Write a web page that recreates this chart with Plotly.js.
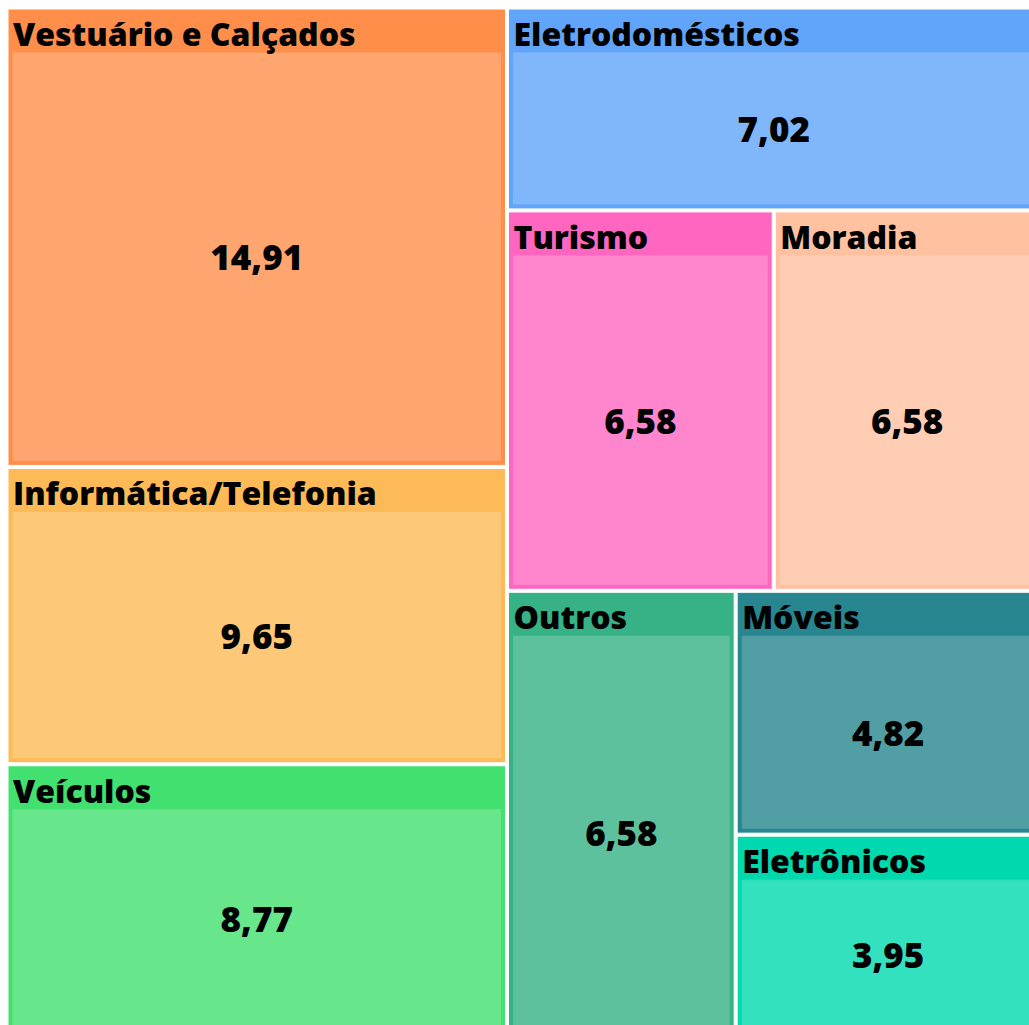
<!DOCTYPE html>
<html>
<head>
<meta charset="utf-8">
<script src="https://cdn.plot.ly/plotly-3.0.1.min.js"></script>
<style>
html,body{margin:0;padding:0;overflow:hidden;background:#fff;}
#chart{position:absolute;left:0;top:-70px;width:1050px;height:1115px;}
</style>
</head>
<body>
<div id="chart"></div>
<script>
const categories = ["Vestuário e Calçados","Informática/Telefonia","Veículos","Eletrodomésticos","Turismo","Moradia","Outros","Móveis","Eletrônicos"];
const values = [14.91, 9.65, 8.77, 7.02, 6.58, 6.58, 6.58, 4.82, 3.95];
const headerColors = ["#FF8E4B","#FDBA56","#42E06F","#60A5FA","#FF66C0","#FFC1A0","#36B286","#27868F","#00D9AE"];

function lighten(hex, f){
  const n = parseInt(hex.slice(1),16);
  const r=(n>>16)&255,g=(n>>8)&255,b=n&255;
  const m=c=>Math.round(c+(255-c)*f);
  return `rgb(${m(r)},${m(g)},${m(b)})`;
}

const CLEAR="rgba(0,0,0,0)";
const ids=[],labels=[],parents=[],vals=[],colors=[],lineColors=[];
const hdrColor=[],valColor=[],hdrText=[],valText=[];
categories.forEach((c,i)=>{
  ids.push(c);labels.push(c);parents.push("");vals.push(0);
  colors.push(headerColors[i]);lineColors.push("#ffffff");
  hdrColor.push("#000");valColor.push(CLEAR);
  hdrText.push(c);valText.push("");
});
categories.forEach((c,i)=>{
  ids.push(c+"__v");labels.push(c);parents.push(c);vals.push(values[i]);
  colors.push(lighten(headerColors[i],0.2));lineColors.push(lighten(headerColors[i],0.2));
  hdrColor.push(CLEAR);valColor.push("#000");
  hdrText.push("");valText.push(values[i].toFixed(2).replace(".",","));
});

const fam = "Open Sans";

const base = {
  type:"treemap", ids:ids, labels:labels, parents:parents, values:vals,
  branchvalues:"remainder", sort:true,
  tiling:{packing:"binary"},
  pathbar:{visible:false}, hoverinfo:"none", textinfo:"text"
};

// coloured rectangles
const rects = Object.assign({}, base, {
  domain:{x:[0,1], y:[0,0.98081]},
  marker:{colors:colors, line:{color:lineColors, width:1}, pad:{t:44,l:5,r:5,b:5}},
  textinfo:"none", textposition:"top left",
  textfont:{family:fam, size:32, weight:800, color:ids.map(()=>CLEAR)}
});
// centred value labels
const vlab = Object.assign({}, base, {
  domain:{x:[0,1], y:[0,0.98081]},
  marker:{colors:ids.map(()=>CLEAR), line:{width:0}, pad:{t:44,l:5,r:5,b:5}},
  text:valText, textposition:"middle center",
  textfont:{family:fam, size:35, weight:800, color:valColor}
});
// category header labels (taller header so text keeps full size)
const hlab = Object.assign({}, base, {
  domain:{x:[0,1], y:[0,0.99543]},
  marker:{colors:ids.map(()=>CLEAR), line:{width:0}, pad:{t:60,l:5,r:5,b:5}},
  text:hdrText, textposition:"top left",
  textfont:{family:fam, size:32, weight:800, color:hdrColor}
});

Plotly.newPlot("chart",[rects,vlab,hlab],{
  width:1050,height:1115,
  margin:{l:3,t:14,r:6,b:7},
  separators:",.",
  paper_bgcolor:"rgba(0,0,0,0)",
  showlegend:false
},{displayModeBar:false,staticPlot:true});
</script>
</body>
</html>
